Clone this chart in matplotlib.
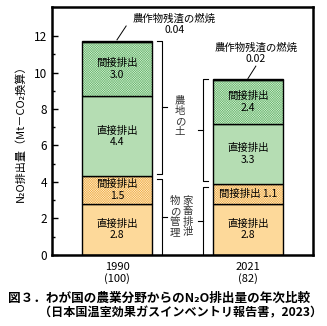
import matplotlib.pyplot as plt
import numpy as np

plt.rcParams['font.family'] = ['Noto Sans CJK JP', 'DejaVu Sans']
plt.rcParams['hatch.linewidth'] = 0.35

years = ['1990\n(100)', '2021\n(82)']
livestock_direct = [2.8, 2.8]
livestock_indirect = [1.5, 1.1]
soil_direct = [4.4, 3.3]
soil_indirect = [3.0, 2.4]
residue_burning = [0.04, 0.02]

x = np.arange(len(years))
w = 0.534

fig = plt.figure(figsize=(3.27, 3.26), dpi=100)
ax = fig.add_axes([0.159, 0.218, 0.798, 0.761])
ax.set_xlim(-0.496, 1.496)
ax.set_ylim(0, 13.6)

layers = [
    (livestock_direct, '#fdd99a', None),
    (livestock_indirect, '#fdebcc', '#f2b24e'),
    (soil_direct, '#b5ddb3', None),
    (soil_indirect, '#d5ecd4', '#6dbb72'),
]
bottom = np.zeros(len(years))
bottoms = []
for vals, fc, hc in layers:
    vals = np.array(vals)
    if hc:
        ax.bar(x, vals, w, bottom=bottom, color=fc, edgecolor=hc,
               hatch='x' * 14, linewidth=0)
        ax.bar(x, vals, w, bottom=bottom, fill=False, edgecolor='black',
               linewidth=1.0)
    else:
        ax.bar(x, vals, w, bottom=bottom, color=fc, edgecolor='black',
               linewidth=1.0)
    bottoms.append(bottom.copy())
    bottom = bottom + vals
ax.bar(x, residue_burning, w, bottom=bottom, color='black',
       edgecolor='black', linewidth=1.0)
tops = bottom + np.array(residue_burning)

fs = 7.5
# labels inside bars
for i in range(len(years)):
    ax.text(x[i], bottoms[0][i] + livestock_direct[i] / 2,
            '直接排出\n%.1f' % livestock_direct[i], ha='center', va='center',
            fontsize=fs, linespacing=1.2)
    if i == 0:
        ax.text(x[i], bottoms[1][i] + livestock_indirect[i] / 2,
                '間接排出\n%.1f' % livestock_indirect[i], ha='center',
                va='center', fontsize=fs, linespacing=1.2)
    else:
        ax.text(x[i], bottoms[1][i] + livestock_indirect[i] / 2,
                '間接排出 %.1f' % livestock_indirect[i], ha='center',
                va='center', fontsize=fs)
    ax.text(x[i], bottoms[2][i] + soil_direct[i] / 2,
            '直接排出\n%.1f' % soil_direct[i], ha='center', va='center',
            fontsize=fs, linespacing=1.2)
    ax.text(x[i], bottoms[3][i] + soil_indirect[i] / 2,
            '間接排出\n%.1f' % soil_indirect[i], ha='center', va='center',
            fontsize=fs, linespacing=1.2)

# crop residue burning annotations
ax.plot([0.0, 0.07], [tops[0] + 0.05, 12.55], color='black', lw=0.7)
ax.text(0.44, 12.65, '農作物残渣の燃焼\n%.2f' % residue_burning[0],
        ha='center', va='center', fontsize=fs, linespacing=1.1)
ax.plot([1.0, 1.06], [tops[1] + 0.05, 10.35], color='black', lw=0.7)
ax.text(1.06, 11.05, '農作物残渣の燃焼\n%.2f' % residue_burning[1],
        ha='center', va='center', fontsize=fs, linespacing=1.1)


def bracket(xl, xe, xm, y0, y1):
    ax.plot([xe, xl, xl, xe], [y0, y0, y1, y1], color='black', lw=0.8)
    ym = (y0 + y1) / 2
    ax.plot([xl, xm], [ym, ym], color='black', lw=0.8)


split = [livestock_direct[i] + livestock_indirect[i] for i in range(2)]
bracket(0.344, 0.305, 0.38, split[0] + 0.15, tops[0])
bracket(0.344, 0.305, 0.38, 0.0, split[0] - 0.15)
bracket(0.656, 0.695, 0.618, split[1] + 0.15, tops[1])
bracket(0.656, 0.695, 0.618, 0.0, split[1] - 0.15)

ax.text(0.48, 7.6, '\n'.join('農地の土'), ha='center', va='center',
        fontsize=fs, linespacing=1.05, color='#333333')
ax.text(0.542, 2.1, '\n'.join('家畜排泄'), ha='center', va='center',
        fontsize=fs, linespacing=1.05, color='#333333')
ax.text(0.443, 2.1, '\n'.join('物の管理'), ha='center', va='center',
        fontsize=fs, linespacing=1.05, color='#333333')

ax.set_yticks(np.arange(0, 13, 2))
ax.set_yticks(np.arange(1, 13, 2), minor=True)
ax.tick_params(axis='y', direction='in', length=4, width=1, labelsize=8.5)
ax.tick_params(axis='y', which='minor', direction='in', length=2.5, width=1)
ax.set_xticks(x)
ax.set_xticklabels(years, fontsize=8, linespacing=1.1)
ax.tick_params(axis='x', length=0, pad=5)
for s in ax.spines.values():
    s.set_linewidth(1.8)
ax.set_ylabel('N₂O排出量（Mt－CO₂換算）', fontsize=8, labelpad=6)

fig.text(0.025, 0.086, '図３．わが国の農業分野からのN₂O排出量の年次比較',
         fontsize=9.1, fontweight='bold', ha='left', va='center')
fig.text(0.118, 0.039, '（日本国温室効果ガスインベントリ報告書，2023）',
         fontsize=8.7, fontweight='bold', ha='left', va='center')

fig.savefig('out.png', dpi=100)
